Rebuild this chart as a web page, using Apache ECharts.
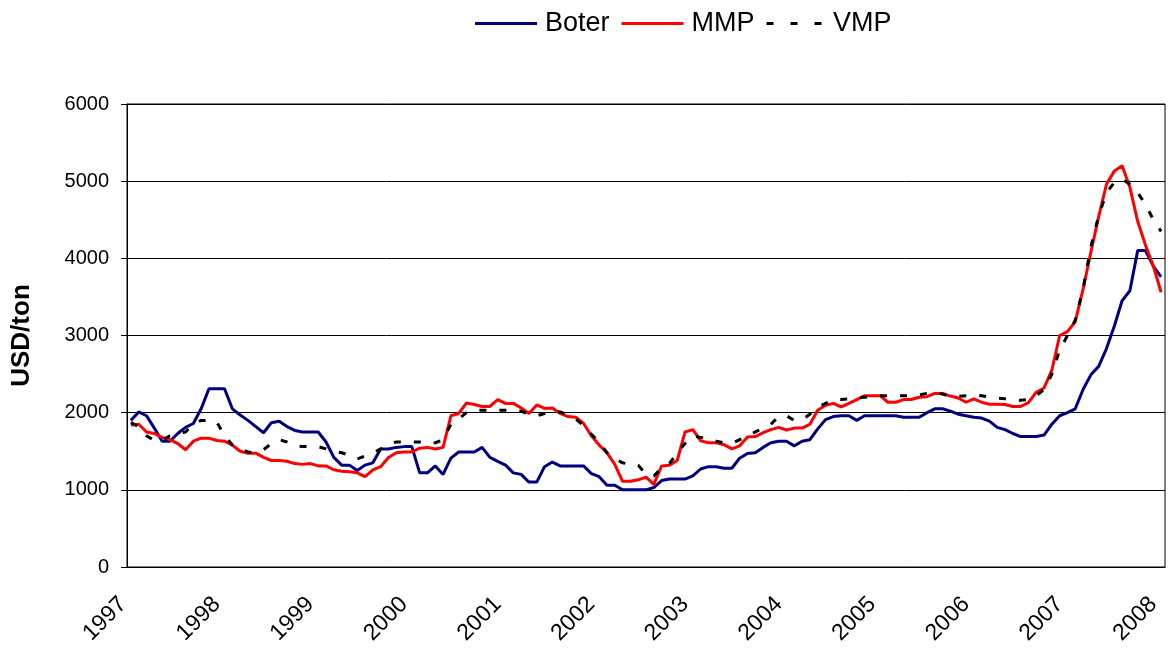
<!DOCTYPE html>
<html>
<head>
<meta charset="utf-8">
<script src="https://cdn.jsdelivr.net/npm/echarts@6/dist/echarts.min.js"></script>
<style>
  html, body { margin: 0; padding: 0; background: #fff; }
  #chart { width: 1168px; height: 648px; }
</style>
</head>
<body>
<div id="chart"></div>
<script>
// years shown under the axis, one per 12 months
const yearLabels = ['1997', '1998', '1999', '2000', '2001', '2002', '2003', '2004', '2005', '2006', '2007', '2008']

// monthly prices, USD/ton, Jan 1997 .. Jan 2008
const boter = [
  1900, 2010, 1960, 1800, 1630, 1630, 1730, 1810, 1860, 2050, 2310, 2310,
  2310, 2050, 1970, 1900, 1820, 1740, 1870, 1890, 1820, 1770, 1750, 1750,
  1750, 1620, 1420, 1320, 1320, 1250, 1320, 1350, 1530, 1530, 1550, 1560,
  1560, 1220, 1220, 1310, 1200, 1410, 1490, 1490, 1490, 1550, 1420, 1370,
  1320, 1220, 1200, 1100, 1100, 1300, 1360, 1310, 1310, 1310, 1310, 1210,
  1170, 1060, 1060, 1000, 1000, 1000, 1000, 1030, 1120, 1140, 1140, 1140,
  1180, 1270, 1300, 1300, 1280, 1280, 1410, 1470, 1480, 1550, 1610, 1630,
  1630, 1570, 1630, 1650, 1790, 1910, 1950, 1960, 1960, 1900, 1960, 1960,
  1960, 1960, 1960, 1940, 1940, 1940, 2000, 2050, 2050, 2020, 1980, 1960,
  1940, 1930, 1890, 1810, 1780, 1730, 1690, 1690, 1690, 1710, 1850, 1960,
  2000, 2050, 2300, 2490, 2600, 2830, 3120, 3450, 3580, 4100, 4100, 3900, 3760
]
const mmp = [
  1840, 1850, 1750, 1730, 1680, 1650, 1600, 1520, 1630, 1670, 1670, 1640,
  1630, 1580, 1500, 1475, 1475, 1420, 1380, 1380, 1370, 1340, 1330, 1340,
  1310, 1310, 1260, 1240, 1235, 1220, 1170, 1260, 1300, 1420, 1480, 1490,
  1490, 1540, 1550, 1530, 1550, 1960, 1990, 2125, 2105, 2080, 2080, 2170,
  2120, 2120, 2060, 1990, 2100, 2055, 2060, 1990, 1950, 1940, 1860, 1700,
  1580, 1480, 1330, 1110, 1110, 1130, 1165, 1070, 1310, 1320, 1380, 1750,
  1780, 1635, 1610, 1610, 1585, 1530, 1570, 1685, 1690, 1740, 1780, 1810,
  1775, 1800, 1800, 1850, 2030, 2095, 2120, 2075, 2120, 2170, 2220, 2220,
  2220, 2135, 2135, 2170, 2170, 2200, 2207, 2250, 2250, 2215, 2190, 2135,
  2180, 2135, 2110, 2110, 2105, 2080, 2080, 2130, 2265, 2320, 2550, 3000,
  3050, 3180, 3600, 4080, 4540, 4960, 5130, 5200, 4920, 4480, 4170, 3900, 3560
]
const vmp = [
  1870, 1820, 1700, 1640, 1640, 1700, 1730, 1750, 1850, 1900, 1900, 1880,
  1700, 1580, 1530, 1490, 1480, 1520, 1600, 1650, 1620, 1570, 1560, 1560,
  1560, 1530, 1500, 1480, 1450, 1400, 1440, 1480, 1530, 1590, 1620, 1620,
  1620, 1620, 1600, 1610, 1650, 1850, 1920, 2000, 2030, 2030, 2030, 2030,
  2030, 2030, 2020, 1980, 1960, 1990, 2020, 2010, 1970, 1920, 1830, 1720,
  1620, 1480, 1400, 1350, 1330, 1320, 1200, 1180, 1280, 1340, 1480, 1600,
  1700, 1680, 1650, 1630, 1610, 1600, 1650, 1700, 1750, 1800, 1850, 1950,
  1960, 1900, 1910, 1980, 2070, 2120, 2170, 2170, 2180, 2190, 2200, 2210,
  2220, 2220, 2220, 2220, 2220, 2230, 2250, 2260, 2240, 2210, 2210, 2220,
  2230, 2220, 2200, 2190, 2180, 2170, 2160, 2170, 2220, 2300, 2500, 2810,
  3000, 3200, 3600, 4150, 4550, 4850, 4980, 5030, 4960, 4850, 4700, 4500, 4350
]

// one category per month, only January carries the year
const months = boter.map((v, i) => (i % 12 === 0 ? yearLabels[i / 12] : ''))

const chart = echarts.init(document.getElementById('chart'))
const font = 'Liberation Sans, Arial, sans-serif'

chart.setOption({
  animation: false,
  textStyle: { fontFamily: font, color: '#000' },
  legend: {
    top: 5,
    left: 470,
    itemWidth: 62,
    itemHeight: 3,
    itemGap: 12,
    textStyle: { fontSize: 27, color: '#000', fontFamily: font, padding: [0, 0, 0, 3] },
    data: [
      { name: 'Boter', icon: 'rect' },
      { name: 'MMP', icon: 'rect' },
      // three short dashes like the Excel legend
      { name: 'VMP', icon: 'path://M0,0h7v3h-7zM24,0h7v3h-7zM48,0h7v3h-7z' }
    ]
  },
  grid: {
    left: 127,
    right: 3,
    top: 104,
    bottom: 81,
    show: true,
    borderColor: '#000',
    borderWidth: 1
  },
  xAxis: {
    type: 'category',
    data: months,
    boundaryGap: true,
    axisLine: { lineStyle: { color: '#000', width: 1 } },
    axisTick: { interval: 0, length: 6, lineStyle: { color: '#000' } },
    axisLabel: {
      interval: 0,
      rotate: 45,
      margin: 26,
      padding: [0, 11, 0, 0],
      fontSize: 23,
      color: '#000',
      fontFamily: font
    },
    splitLine: { show: false }
  },
  yAxis: {
    type: 'value',
    min: 0,
    max: 6000,
    interval: 1000,
    name: 'USD/ton',
    nameLocation: 'middle',
    nameRotate: 90,
    nameGap: 92,
    nameTextStyle: { fontSize: 26, fontWeight: 'bold', color: '#000', fontFamily: font },
    axisLine: { show: true, lineStyle: { color: '#000', width: 1 } },
    axisTick: { show: true, length: 6, lineStyle: { color: '#000' } },
    axisLabel: { fontSize: 20, margin: 18, color: '#000', fontFamily: font, formatter: (v) => String(v) },
    splitLine: { show: true, lineStyle: { color: '#000', width: 1 } }
  },
  series: [
    {
      name: 'Boter',
      type: 'line',
      data: boter,
      symbol: 'none',
      lineStyle: { color: '#000080', width: 3 },
      itemStyle: { color: '#000080' }
    },
    {
      name: 'MMP',
      type: 'line',
      data: mmp,
      symbol: 'none',
      lineStyle: { color: '#ff0000', width: 3 },
      itemStyle: { color: '#ff0000' }
    },
    {
      name: 'VMP',
      type: 'line',
      data: vmp,
      symbol: 'none',
      lineStyle: { color: '#000', width: 3, type: [7, 13] },
      itemStyle: { color: '#000' }
    }
  ]
})
</script>
</body>
</html>
